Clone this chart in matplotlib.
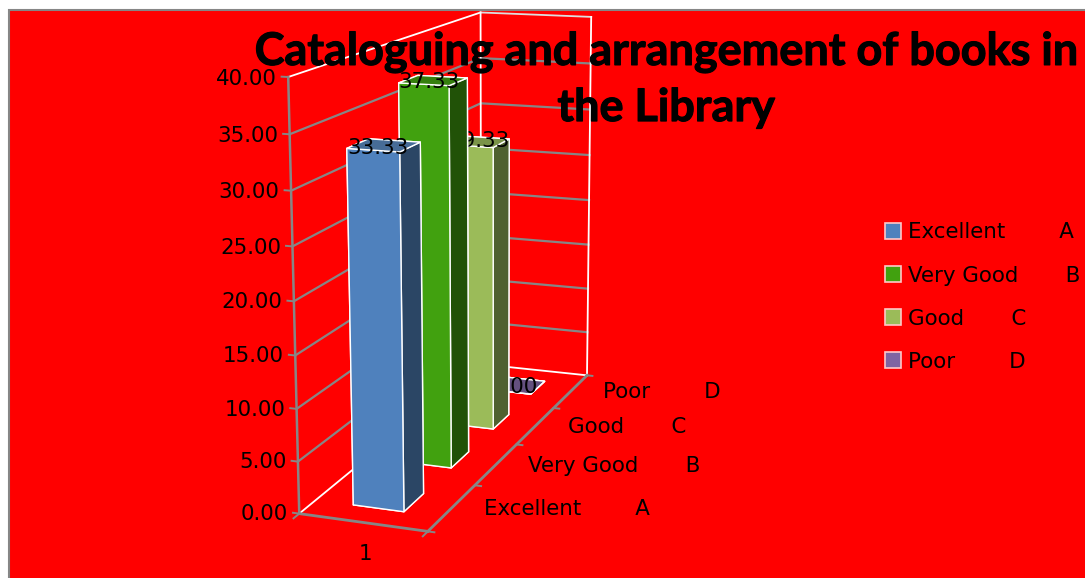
import matplotlib
matplotlib.use("Agg")
import matplotlib.pyplot as plt
import matplotlib.patheffects as pe
from matplotlib.patches import Patch, Rectangle

categories = ["Excellent        A", "Very Good       B", "Good       C", "Poor        D"]
legendLabels = ["Excellent        A", "Very Good       B", "Good       C", "Poor        D"]
values = [33.33, 37.33, 29.33, 0.00]
zTicks = [0, 5, 10, 15, 20, 25, 30, 35, 40]
titleText = "Cataloguing and arrangement of books in\nthe Library"

frontColors = ["#4F81BD", "#41A10F", "#9BBB59", "#8064A2"]
topColors = ["#476C97", "#357F0D", "#7A9348", "#64507F"]
sideColors = ["#2B4665", "#215207", "#4F6130", "#463A5C"]

W, H = 1085, 578
GREY = "#868686"
fontSize = 15.4

fig = plt.figure(figsize=(W / 100, H / 100), dpi=100, facecolor="white")
fig.add_artist(Rectangle((9 / W, -0.01), 1.01, 1.01 - 10 / H, transform=fig.transFigure,
                         facecolor="#FF0000", edgecolor=GREY, linewidth=1.5, zorder=-1))

# view fitted against the corners of the walls in the picture
ax = fig.add_axes([132.14 / W, 7.84 / H, 632.39 / W, 632.39 / H], projection='3d', computed_zorder=False)
ax.set_xlim(0, 1)
ax.set_ylim(0, 4)
ax.set_zlim(0, 40)
ax.view_init(13.654, -69.445, 0.272)
ax.set_proj_type('persp', focal_length=0.569)
ax.set_box_aspect((0.2569, 1, 0.8192))
ax.set_xticks([])
ax.set_yticks([])
ax.set_zticks([])
ax.set_axis_off()
ax.patch.set_visible(False)

depth = len(categories)
zMax = zTicks[-1]

# gridlines on the two walls
for z in zTicks[1:-1]:
    ax.plot([0, 0, 1], [0, depth, depth], [z, z, z], color=GREY, lw=1.6, zorder=1)

# wall and floor edges
ax.plot([0, 0], [0, depth], [zMax, zMax], color="white", lw=1.3, zorder=1)
ax.plot([0, 1], [depth, depth], [zMax, zMax], color="#DDDDDD", lw=1.3, zorder=1)
ax.plot([0, 0], [depth, depth], [0, zMax], color="white", lw=1.3, zorder=1)
ax.plot([1, 1], [depth, depth], [0, zMax], color="white", lw=1.3, zorder=1)
ax.plot([0, 0], [0, depth], [0, 0], color="white", lw=1.3, zorder=1)
ax.plot([0, 1], [depth, depth], [0, 0], color="white", lw=1.3, zorder=1)

# axis lines
ax.plot([0, 0], [0, 0], [0, zMax], color=GREY, lw=1.8, zorder=2)
ax.plot([0, 1], [0, 0], [0, 0], color=GREY, lw=2, zorder=2)
ax.plot([1, 1], [0, depth], [0, 0], color=GREY, lw=2, zorder=2)

for z in zTicks:
    ax.plot([-0.05, 0], [0, 0], [z, z], color=GREY, lw=1.4, zorder=2)
    ax.text(-0.09, 0, z - 0.2, "%.2f" % z, ha="right", va="center", fontsize=fontSize, zorder=30)
for i in range(depth + 1):
    ax.plot([1, 1.05], [i, i], [0, 0], color=GREY, lw=1.4, zorder=2)
ax.plot([0, 0], [0, -0.1], [0, 0], color=GREY, lw=1.4, zorder=2)
ax.plot([1, 1], [0, -0.1], [0, 0], color=GREY, lw=1.4, zorder=2)

for i, c in enumerate(categories):
    ax.text(1.25 + 0.012 * i, i + 0.5, 0.25, c, ha="left", va="center", fontsize=fontSize, zorder=30)
ax.text(0.75, -0.55, 0, "1", ha="center", va="center", fontsize=fontSize, zorder=30)

# gap width 150 % on both axes, so each bar fills 0.4 of its slot; back bars first
barSize = 0.4
barGap = 0.3
labelDepth = [0.39, 0.40, 0.54, 0.46]
for i in reversed(range(depth)):
    faces = [frontColors[i], topColors[i], frontColors[i], frontColors[i], sideColors[i], sideColors[i]]
    ax.bar3d(barGap, i + barGap, 0, barSize, barSize, values[i], color=faces, shade=False,
             edgecolor="white", linewidth=1, zorder=10 + 2 * (depth - i))
    ax.text(barGap + barSize / 2, i + labelDepth[i], values[i], "%.2f" % values[i], ha="center", va="center",
            fontsize=fontSize, zorder=11 + 2 * (depth - i))

title = fig.text(666 / W, 1 - 80 / H, titleText, ha="center", va="center", fontsize=32.4, fontweight="bold",
                 family="Lato", color="black", linespacing=1.4, zorder=40)
title.set_path_effects([pe.withStroke(linewidth=0.8, foreground="black")])

handles = [Patch(facecolor=c, edgecolor="#FFC8C8", linewidth=1.2) for c in frontColors]
fig.legend(handles, legendLabels, loc="upper left", bbox_to_anchor=(879 / W, 1 - 216 / H), frameon=False,
           fontsize=fontSize, labelspacing=1.08, handlelength=0.75, handleheight=0.75, handletextpad=0.3,
           borderpad=0.3, borderaxespad=0)

fig.savefig("out.png", dpi=100)
